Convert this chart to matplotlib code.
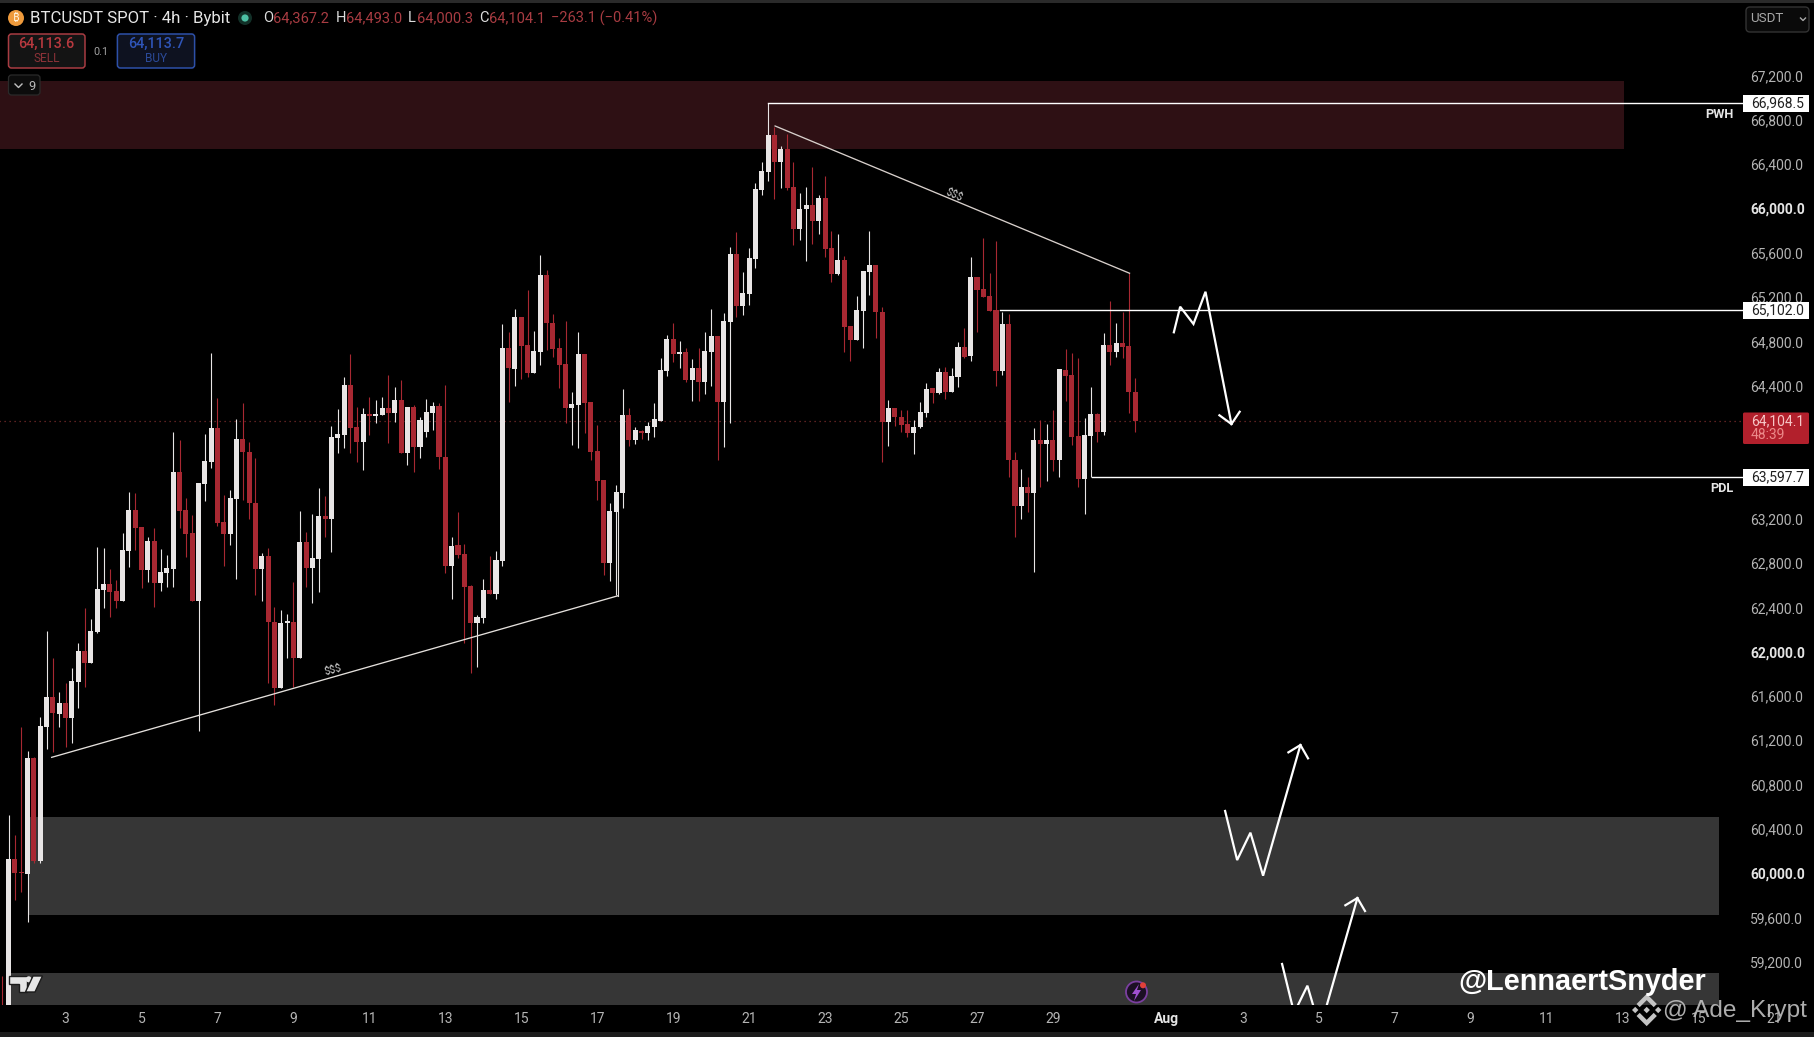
import matplotlib
matplotlib.use("Agg")
import matplotlib.pyplot as plt
from matplotlib.patches import Rectangle, FancyBboxPatch, Circle, Polygon
from matplotlib.transforms import ScaledTranslation

opens = [58700, 58700, 60149, 60025, 60013, 61063, 60128, 61343, 61611, 61457,
         61554, 61424, 61749, 62026, 61921, 62200, 62577, 62628, 62568, 62477,
         62929, 63299, 63142, 62757, 63019, 62643, 62733, 62766, 63641, 63298,
         63088, 62477, 63533, 63735, 64035, 63190, 63082, 63398, 63939, 63825,
         63359, 62766, 62883, 62291, 61695, 62280, 62285, 61966, 63007, 62778,
         62859, 63244, 63220, 63951, 63975, 64427, 64050, 63915, 64160, 64150,
         64156, 64216, 64177, 64291, 63816, 64225, 63870, 64005, 64177, 64240,
         63780, 62796, 62983, 62898, 62613, 62282, 62327, 62577, 62540, 62838,
         64757, 64571, 65037, 64787, 64538, 64727, 65419, 64983, 64763, 64616,
         64222, 64246, 64706, 64270, 63834, 63569, 62823, 63284, 63455, 64156,
         63930, 64015, 63990, 64051, 64105, 64556, 64842, 64710, 64721, 64472,
         64577, 64457, 64727, 64869, 64273, 64998, 65610, 65143, 65249, 65564,
         66187, 66353, 66683, 66443, 66557, 66211, 65838, 66013, 66052, 65910,
         66112, 65661, 65429, 65555, 64960, 64833, 65095, 65450, 65510, 65083,
         64090, 64217, 64142, 64072, 63991, 64051, 64178, 64397, 64352, 64545,
         64361, 64503, 64767, 64689, 65399, 65291, 65231, 65104, 64554, 64978,
         63751, 63335, 63504, 63456, 63931, 63892, 63931, 63745, 64563, 64518,
         63967, 63579, 63970, 64166, 64006, 64788, 64728, 64803, 64779, 64367]
highs = [59090, 60546, 60365, 61343, 61126, 61070, 61434, 62210, 61960, 61653,
         61734, 61870, 62095, 62411, 62312, 62968, 62953, 62763, 62667, 63088,
         63464, 63455, 63145, 63058, 63133, 62947, 62892, 63999, 63930, 63404,
         63253, 63545, 63984, 64712, 64306, 63434, 63479, 64120, 64261, 63915,
         63765, 62907, 62953, 62426, 62396, 62360, 62652, 63292, 63097, 63262,
         63494, 63424, 64057, 64210, 64502, 64706, 64231, 64216, 64321, 64291,
         64321, 64517, 64411, 64472, 64231, 64246, 64135, 64297, 64270, 64260,
         64427, 63052, 63277, 62992, 62622, 62351, 62676, 62883, 62928, 64977,
         64902, 65109, 65040, 65284, 64917, 65600, 65464, 65067, 64854, 65007,
         64360, 64908, 64710, 64270, 64066, 63570, 63359, 63524, 64390, 64216,
         64045, 64020, 64096, 64267, 64673, 64878, 64983, 64827, 64757, 64661,
         64757, 64908, 65109, 64870, 65073, 65669, 65805, 65444, 65661, 66247,
         66443, 66968, 66759, 66584, 66692, 66437, 66157, 66211, 66392, 66142,
         66313, 65820, 65790, 65594, 64960, 65230, 65456, 65817, 65510, 65134,
         64292, 64220, 64202, 64202, 64112, 64277, 64442, 64400, 64578, 64593,
         64578, 64818, 64939, 65579, 65405, 65751, 65441, 65730, 65089, 65068,
         63826, 63669, 63600, 64036, 64111, 64075, 64202, 64569, 64749, 64719,
         64668, 64127, 64412, 64172, 64894, 65185, 64990, 65089, 65435, 64493]
lows = [58400, 58650, 59779, 59854, 59583, 60110, 60110, 61142, 61118, 61343,
        61163, 61193, 61509, 61698, 61915, 62191, 62411, 62336, 62417, 62477,
        62781, 62938, 62592, 62646, 62426, 62571, 62607, 62607, 63133, 62877,
        62477, 61307, 63380, 63674, 63154, 62793, 62983, 62673, 63389, 63217,
        62531, 62477, 61734, 61539, 61690, 61960, 61698, 61960, 62607, 62462,
        62562, 63058, 62922, 63810, 63860, 63810, 63735, 63659, 63975, 64087,
        64156, 63900, 64096, 63816, 63705, 63644, 63765, 63960, 64020, 63669,
        62727, 62495, 62862, 62101, 61825, 61885, 62276, 62540, 62495, 62796,
        64270, 64417, 64478, 64502, 64532, 64607, 64742, 64682, 64396, 64081,
        63885, 63861, 63990, 63750, 63389, 62712, 62658, 62531, 63314, 63879,
        63894, 63936, 63930, 63960, 64105, 64511, 64637, 64577, 64451, 64282,
        64282, 64342, 64417, 63750, 63870, 64081, 65044, 65059, 65149, 65480,
        66142, 66271, 66103, 66202, 66187, 65691, 65736, 65546, 65700, 65790,
        65585, 65360, 65420, 64728, 64647, 64833, 64764, 65240, 64855, 63727,
        63877, 64060, 64006, 63961, 63805, 64036, 64136, 64262, 64346, 64298,
        64361, 64406, 64668, 64647, 64903, 65220, 65095, 64418, 64518, 63600,
        63059, 63215, 63284, 62743, 63510, 63561, 63651, 63600, 64286, 63886,
        63510, 63260, 63600, 63916, 63976, 64608, 64683, 64668, 64178, 64000]
closes = [58500, 60149, 60025, 60020, 61063, 60128, 61349, 61611, 61464, 61554,
          61424, 61755, 62026, 61915, 62207, 62586, 62628, 62562, 62477, 62938,
          63299, 63139, 62757, 63019, 62637, 62739, 62772, 63641, 63292, 63082,
          62477, 63539, 63741, 64035, 63178, 63082, 63404, 63939, 63825, 63359,
          62766, 62883, 62291, 61695, 62276, 62295, 61966, 63007, 62778, 62862,
          63244, 63220, 63954, 63984, 64427, 64035, 63915, 64162, 64150, 64165,
          64216, 64177, 64291, 63816, 64225, 63870, 64111, 64180, 64237, 63780,
          62796, 62977, 62892, 62607, 62282, 62330, 62577, 62540, 62847, 64757,
          64577, 65037, 64778, 64538, 64733, 65419, 64983, 64751, 64607, 64222,
          64255, 64706, 64267, 63822, 63563, 62823, 63290, 63458, 64156, 63930,
          64020, 63990, 64057, 64117, 64562, 64842, 64706, 64725, 64472, 64577,
          64457, 64733, 64869, 64273, 65004, 65609, 65143, 65255, 65570, 66196,
          66359, 66683, 66443, 66557, 66208, 65838, 66013, 66049, 65910, 66112,
          65655, 65429, 65555, 64954, 64833, 65104, 65456, 65510, 65083, 64090,
          64217, 64142, 64066, 63991, 64051, 64181, 64388, 64352, 64545, 64361,
          64509, 64767, 64683, 65399, 65285, 65225, 65095, 64554, 64978, 63745,
          63335, 63504, 63450, 63931, 63892, 63931, 63745, 64569, 64509, 63961,
          63579, 63976, 64166, 64006, 64788, 64728, 64803, 64773, 64367, 64104]

price_ticks = list(range(59200, 67201, 400))
bold_prices = [60000, 62000, 66000]
date_labels = ["3", "5", "7", "9", "11", "13", "15", "17", "19", "21", "23", "25", "27", "29",
               "Aug", "3", "5", "7", "9", "11", "13", "15", "21"]
date_bars = [10, 22, 34, 46, 58, 70, 82, 94, 106, 118, 130, 142, 154, 166,
             184, 196, 208, 220, 232, 244, 256, 268, 280]

pwh = 66968.5
mid_level = 65102.0
pdl = 63597.7
last_close = 64104.1

supply_zone = (67170, 66560)
demand_zone_a = (60525, 59643)
demand_zone_b = (59117, 58700)

rising_x = [7.8, 97.2]
rising_y = [61066, 62523]
falling_x = [122.1, 178.1]
falling_y = [66764, 65435]

down_x = [185.1, 186.1, 188.2, 190.1, 194.2]
down_y = [64902, 65133, 64977, 65268, 64074]
down_head_x = [192.3, 194.2, 195.5]
down_head_y = [64153, 64074, 64185]
up1_x = [193.2, 195.1, 197.2, 199.2, 205.1]
up1_y = [60582, 60139, 60386, 59998, 61177]
up1_head_x = [203.2, 205.1, 206.3]
up1_head_y = [61111, 61177, 61057]
up2_x = [202.2, 204.1, 206.2, 208.2, 214.1]
up2_y = [59201, 58759, 59005, 58617, 59796]
up2_head_x = [212.2, 214.1, 215.3]
up2_head_y = [59731, 59796, 59679]

RED = "#a82832"
WHITE = "#e8e5e5"
FONT = "Roboto"

fig = plt.figure(figsize=(18.15, 10.37), dpi=100, facecolor="black")
ax = fig.add_axes([0, 0, 1, 1], facecolor="black")
ax.set_xlim(-0.363, 286.4)
ax.set_ylim(58542, 67901)
ax.set_axisbelow(False)
for s in ax.spines.values():
    s.set_visible(False)

# zones
ax.add_patch(Rectangle((-1, supply_zone[1]), 257.2, supply_zone[0] - supply_zone[1], color="#2e1014", lw=0, zorder=0.5))
ax.add_patch(Rectangle((4, demand_zone_a[1]), 267.2, demand_zone_a[0] - demand_zone_a[1], color="#363636", lw=0, zorder=0.5))
ax.add_patch(Rectangle((1.2, demand_zone_b[1]), 270, demand_zone_b[0] - demand_zone_b[1], color="#363636", lw=0, zorder=0.5))
ax.plot([-1, 275], [last_close, last_close], color="#7a2c2c", lw=0.9, ls=(0, (1, 3)), zorder=0.8)

# candles
for i in range(len(opens)):
    up = closes[i] >= opens[i]
    col = WHITE if up else RED
    ax.plot([i, i], [lows[i], highs[i]], color=col, lw=0.8, zorder=1, solid_capstyle="butt")
    bottom = min(opens[i], closes[i])
    height = max(abs(closes[i] - opens[i]), 14)
    ax.bar(i, height, 0.8, bottom=bottom, color=col, lw=0, zorder=1.2)

# drawn levels and trend lines
ax.plot([121, 275], [pwh, pwh], color="white", lw=1.0, zorder=2.1)
ax.plot([157.6, 275], [mid_level, mid_level], color="white", lw=1.0, zorder=2.1)
ax.plot([172.2, 275], [pdl, pdl], color="white", lw=1.0, zorder=2.1)
ax.plot(rising_x, rising_y, color="#e4e0dc", lw=0.95, zorder=2.1)
ax.plot([97.2, 97.2], [rising_y[1], 63284], color="#e4e0dc", lw=0.8, zorder=2.1)
ax.plot(falling_x, falling_y, color="#d8d0cc", lw=0.95, zorder=2.1)
ax.text(52.3, 61860, "$$$", color="#c8c8c8", fontsize=7.6, rotation=15, ha="center", va="center", family=FONT, zorder=2.1)
ax.text(150.4, 66143, "$$$", color="#c8c8c8", fontsize=7.6, rotation=-24, ha="center", va="center", family=FONT, zorder=2.1)

for xs, ys, hx, hy in [(down_x, down_y, down_head_x, down_head_y),
                       (up1_x, up1_y, up1_head_x, up1_head_y),
                       (up2_x, up2_y, up2_head_x, up2_head_y)]:
    ax.plot(xs, ys, color="white", lw=1.6, zorder=2.1, solid_joinstyle="miter")
    ax.plot(hx, hy, color="white", lw=1.6, zorder=2.1, solid_joinstyle="miter")

# time axis strip hides what runs below the pane
ax.add_patch(Rectangle((-1, 58000), 300, 830, color="black", lw=0, zorder=2.2))

ax.yaxis.tick_right()
ax.set_yticks(price_ticks)
ax.set_yticklabels([f"{p:,.1f}" for p in price_ticks])
ax.tick_params(axis="y", length=0, pad=-46.6, labelsize=10, labelcolor="#b4b4b4")
ax.set_xticks(date_bars)
ax.set_xticklabels(date_labels)
ax.tick_params(axis="x", length=0, pad=-18, labelsize=10, labelcolor="#b4b4b4")
shift_up = ScaledTranslation(0, 1.6 / 72, fig.dpi_scale_trans)
for tick, p in zip(ax.yaxis.get_major_ticks(), price_ticks):
    lab = tick.label2
    lab.set_family(FONT)
    lab.set_horizontalalignment("left")
    lab.set_transform(lab.get_transform() + shift_up)
    if p in bold_prices:
        lab.set_fontweight("bold")
        lab.set_color("#e4e4e4")
for lab, d in zip(ax.get_xticklabels(), date_labels):
    lab.set_family(FONT)
    if d == "Aug":
        lab.set_fontweight("bold")
        lab.set_color("#e4e4e4")

# overlay in screen pixels for the terminal widgets
ui = fig.add_axes([0, 0, 1, 1], facecolor="none")
ui.set_xlim(0, 1815)
ui.set_ylim(1037, 0)
ui.axis("off")


def txt(x, y, s, color="#dddddd", size=10, ha="left", weight="normal", family=FONT, **kw):
    ui.text(x, y, s, color=color, fontsize=size, ha=ha, va="center", fontweight=weight, family=family, **kw)


def box(x0, y0, x1, y1, edge, face="none", lw=1.0, r=3):
    ui.add_patch(FancyBboxPatch((x0 + r, y0 + r), x1 - x0 - 2 * r, y1 - y0 - 2 * r,
                                boxstyle=f"round,pad={r},rounding_size={r}", ec=edge, fc=face, lw=lw))


ui.add_patch(Rectangle((0, 0), 1815, 2.5, color="#2a2a2a", lw=0))
ui.add_patch(Rectangle((0, 1032), 1815, 5, color="#1c1c1c", lw=0))

# header
ui.add_patch(Circle((16, 18), 8, color="#ee9a3c", lw=0))
txt(16, 18, "₿", color="#fff2dc", size=8, ha="center", family=["Noto Sans", "Roboto", "Open Sans", "Lato", "Inter", "DejaVu Sans"])
txt(30, 18, "BTCUSDT SPOT · 4h · Bybit", color="#e6e6e6", size=12.1)
ui.add_patch(Circle((245, 18), 7, color="#123028", lw=0))
ui.add_patch(Circle((245, 18), 3.6, color="#4cc0a4", lw=0))
OHLC_RED = "#a83c42"
for x, s in [(263, "O"), (336, "H"), (408, "L"), (479, "C")]:
    txt(x, 18, s, color="#dcdcdc", size=10.5)
for x, s in [(273.5, "64,367.2"), (346.4, "64,493.0"), (417, "64,000.3"), (489.5, "64,104.1"),
             (551, "−263.1 (−0.41%)")]:
    txt(x, 18, s, color=OHLC_RED, size=10.5)

box(8.5, 34, 85, 68, "#a83c42", "#141414", lw=1.1)
txt(46.7, 44, "64,113.6", color="#b8393f", size=10.4, ha="center", weight="medium")
txt(46.7, 58, "SELL", color="#8c3238", size=8.6, ha="center")
txt(101, 52, "0.1", color="#a0a0a0", size=7.8, ha="center")
box(117.4, 34, 194.6, 68, "#2d50a8", "#0e1220", lw=1.1)
txt(156, 44, "64,113.7", color="#2f55b8", size=10.4, ha="center", weight="medium")
txt(156, 58, "BUY", color="#2b4a98", size=8.6, ha="center")
box(8.5, 75, 40, 95, "#2a2a2a", "#0c0c0c", lw=0.9)
ui.plot([15, 18.5, 22], [84, 87.5, 84], color="#c0c0c0", lw=1.0)
txt(32, 86, "9", color="#b8b8b8", size=9.4, ha="center")

# USDT selector
box(1746, 7, 1809, 32, "#333333", "#0a0a0a", lw=1.0, r=4)
txt(1750, 19, "USDT", color="#a8a8a8", size=9.6)
ui.plot([1800.5, 1803, 1805.5], [18, 20.5, 18], color="#a8a8a8", lw=1.0)

# price tags
for yy, s in [(103.3, "66,968.5"), (310.3, "65,102.0"), (477.3, "63,597.7")]:
    ui.add_patch(Rectangle((1743, yy - 8.5), 66, 17, color="white", lw=0))
    txt(1750.7, yy, s, color="#202020", size=10)
ui.add_patch(FancyBboxPatch((1744, 413.5), 64, 29.5, boxstyle="round,pad=1,rounding_size=1.5", fc="#b2202c", ec="none"))
txt(1750.7, 421, "64,104.1", color="#f6c6c6", size=10)
txt(1750.7, 435, "48:39", color="#ec8a8a", size=10)
txt(1734, 114, "PWH", color="#e6e6e6", size=9.2, ha="right", weight="bold")
txt(1734, 488, "PDL", color="#e6e6e6", size=9.2, ha="right", weight="bold")

# tradingview logo
ui.add_patch(Polygon([(9.5, 976), (27, 976), (27, 992), (19.5, 992), (19.5, 984), (9.5, 984)], fc="#e6e6e6", ec="#1c1c1c", lw=1))
ui.add_patch(Circle((28.7, 979.3), 3, fc="#e6e6e6", ec="none"))
ui.add_patch(Polygon([(33, 976), (42.5, 976), (35, 992), (25.5, 992)], fc="#e6e6e6", ec="#1c1c1c", lw=1))

# alert icon
ui.add_patch(Circle((1136.5, 992), 10.5, fc="#1c1024", ec="#7b3fa0", lw=1.3))
ui.add_patch(Polygon([(1139, 984), (1132, 994), (1136, 994), (1134, 1001), (1141, 990), (1137, 990)], fc="#a050d0", ec="none"))
ui.add_patch(Circle((1143, 985.3), 3, fc="#e0403a", ec="none"))

# watermarks
txt(1458, 981.5, "@LennaertSnyder", color="white", size=20.8, weight="bold", family="Liberation Sans")
txt(1663, 1011.5, "@ Ade_Krypt", color="#bcbcbc", size=17.6, family="Liberation Sans", alpha=0.92)
BIN = "#c4c4c4"
cx, cy = 1646.7, 1010
for dx, dy in [(0, 0), (-11.5, 0), (11.5, 0)]:
    ui.add_patch(Polygon([(cx + dx - 3.2, cy + dy), (cx + dx, cy + dy - 3.2), (cx + dx + 3.2, cy + dy), (cx + dx, cy + dy + 3.2)], fc=BIN, ec="none"))
ui.plot([cx - 7, cx, cx + 7], [cy - 6, cy - 13, cy - 6], color=BIN, lw=3.2, solid_joinstyle="miter")
ui.plot([cx - 7, cx, cx + 7], [cy + 6, cy + 13, cy + 6], color=BIN, lw=3.2, solid_joinstyle="miter")

fig.savefig("out.png", dpi=100, facecolor="black")
